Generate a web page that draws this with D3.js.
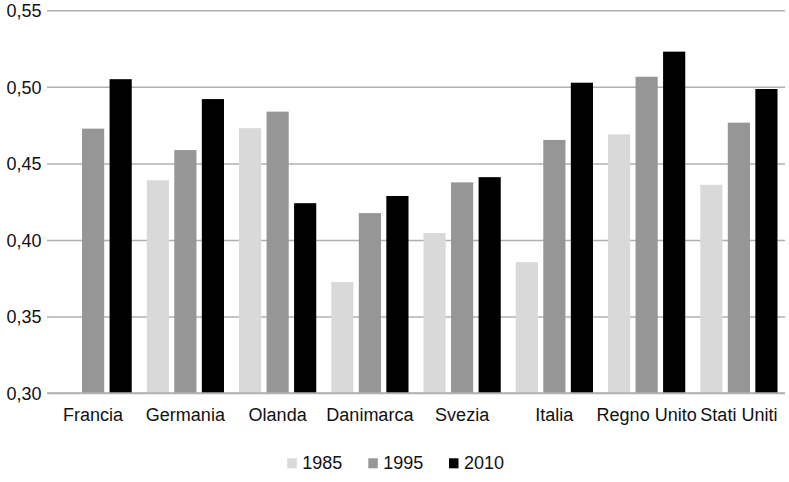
<!DOCTYPE html>
<html>
<head>
<meta charset="utf-8">
<script src="https://cdn.jsdelivr.net/npm/d3@7"></script>
<style>
html,body{margin:0;padding:0;background:#fff;}
text{font-family:"Liberation Sans",Arial,Helvetica,sans-serif;}
</style>
</head>
<body>
<svg id="chart" width="789" height="482"></svg>
<script>
const categories = ["Francia","Germania","Olanda","Danimarca","Svezia","Italia","Regno Unito","Stati Uniti"];
const seriesNames = ["1985","1995","2010"];
const values1985 = [null, 0.439, 0.473, 0.3725, 0.4045, 0.3855, 0.469, 0.436];
const values1995 = [0.4727, 0.4587, 0.4838, 0.4175, 0.4376, 0.4653, 0.5066, 0.4766];
const values2010 = [0.505, 0.492, 0.424, 0.4287, 0.441, 0.5027, 0.523, 0.4986];
const yTicks = [0.30, 0.35, 0.40, 0.45, 0.50, 0.55];
const colors = ["#d9d9d9", "#969696", "#000000"];

const seriesValues = [values1985, values1995, values2010];
const svg = d3.select("#chart");
const mLeft = 47, mRight = 785, mTop = 10.3, mBottom = 393;

const x0 = d3.scaleBand().domain(categories).range([mLeft, mRight]).padding(0);
const x1 = d3.scaleBand().domain(seriesNames)
  .range([7.5, x0.bandwidth() - 7.5]).paddingInner(0.195).paddingOuter(0);
const y = d3.scaleLinear().domain([0.30, 0.55]).range([mBottom, mTop]);

// gridlines
const yAxis = d3.axisLeft(y).tickValues(yTicks)
  .tickFormat(d => d3.format(".2f")(d).replace(".", ","))
  .tickSize(-(mRight - mLeft)).tickPadding(5);
const gy = svg.append("g").attr("transform", `translate(${mLeft},0)`).call(yAxis);
gy.select(".domain").remove();
gy.selectAll(".tick line").attr("stroke", "#b0b0b0").attr("stroke-width", 1.5);
gy.selectAll(".tick text").attr("font-size", 18).attr("fill", "#111")
  .attr("font-family", "Liberation Sans, Arial, sans-serif").attr("x", -5.5).attr("dy", "0.35em");

// bars
const groups = svg.append("g").selectAll("g").data(categories).join("g")
  .attr("transform", d => `translate(${x0(d)},0)`);
groups.selectAll("rect")
  .data((d, i) => seriesNames.map((s, j) => ({s, j, v: seriesValues[j][i]})).filter(e => e.v != null))
  .join("rect")
  .attr("x", e => x1(e.s))
  .attr("width", x1.bandwidth())
  .attr("y", e => y(e.v))
  .attr("height", e => y(0.30) - y(e.v))
  .attr("fill", e => colors[e.j]);

// baseline redraw on top
svg.append("line").attr("x1", mLeft).attr("x2", mRight).attr("y1", y(0.30)).attr("y2", y(0.30))
  .attr("stroke", "#b0b0b0").attr("stroke-width", 1.5);

// x axis labels
const xAxis = d3.axisBottom(x0).tickSize(0).tickPadding(0);
const gx = svg.append("g").attr("transform", `translate(0,${mBottom})`).call(xAxis);
gx.select(".domain").remove();
gx.selectAll(".tick text").attr("font-size", 18).attr("fill", "#111")
  .attr("font-family", "Liberation Sans, Arial, sans-serif")
  .attr("dy", null).attr("y", 27.5);

// legend
const legendX = [287.3, 368.3, 449];
const lg = svg.append("g").selectAll("g").data(seriesNames).join("g")
  .attr("transform", (d, i) => `translate(${legendX[i]},0)`);
lg.append("rect").attr("x", 0).attr("y", 458.3).attr("width", 9.5).attr("height", 10).attr("fill", (d, i) => colors[i]);
lg.append("text").attr("x", 15).attr("y", 469).attr("font-size", 18).attr("fill", "#111").text(d => d);
</script>
</body>
</html>
